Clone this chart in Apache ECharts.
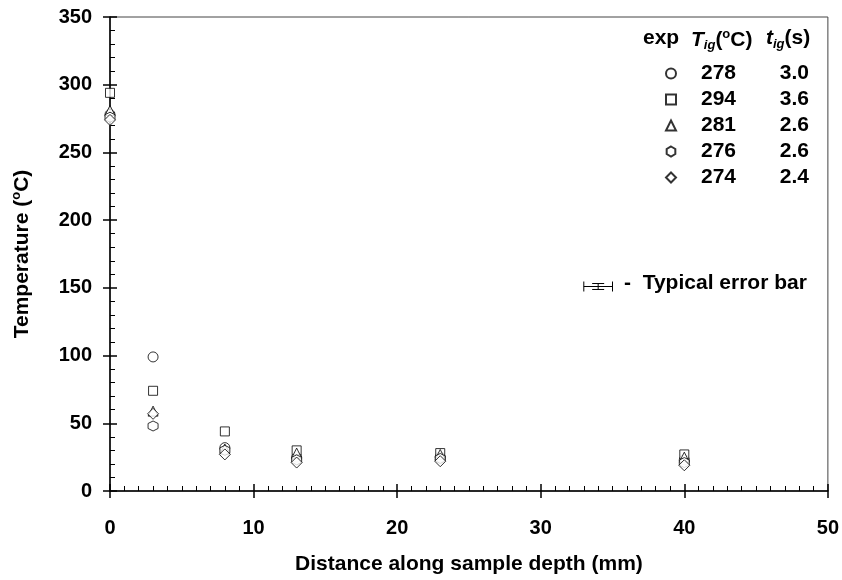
<!DOCTYPE html>
<html>
<head>
<meta charset="utf-8">
<script src="https://cdn.jsdelivr.net/npm/echarts@6/dist/echarts.min.js"></script>
<style>
  html, body { margin: 0; padding: 0; background: #fff; }
  #chart { width: 842px; height: 580px; }
</style>
</head>
<body>
<div id="chart"></div>
<script>
// distance along sample depth (mm)
var depth = [0, 3, 8, 13, 23, 40];
// temperature (oC) per experiment
var exp1 = [278, 99, 32, 25, 25, 23];
var exp2 = [294, 74, 44, 30, 28, 27];
var exp3 = [281, 59, 31, 28, 27, 25];
var exp4 = [276, 48, 30, 23, 24, 21];
var exp5 = [274, 57, 27, 21, 22, 19];
var expTig = [278, 294, 281, 276, 274];
var expTime = ['3.0', '3.6', '2.6', '2.6', '2.4'];
var expNames = ['exp1', 'exp2', 'exp3', 'exp4', 'exp5'];
// typical error bar: [x, y, +-x, +-y]
var typicalError = [[34, 151, 1, 2.2]];

var font = 'Liberation Sans, Arial, sans-serif';
var hexagon = 'path://M0,-1L0.866,-0.5L0.866,0.5L0,1L-0.866,0.5L-0.866,-0.5Z';
var symbols = ['circle', 'rect', 'triangle', hexagon, 'diamond'];
var sizes = [10, 9, 10, 10, 11];
var values = [exp1, exp2, exp3, exp4, exp5];

function pairs(arr) {
  return arr.map(function (v, i) { return [depth[i], v]; });
}

var series = values.map(function (arr, i) {
  return {
    name: expNames[i],
    type: 'scatter',
    data: pairs(arr),
    symbol: symbols[i],
    symbolSize: sizes[i],
    itemStyle: { color: '#fff', borderColor: '#000', borderWidth: 1 },
    z: 3
  };
});

series.push({
  type: 'custom',
  data: typicalError,
  renderItem: function (params, api) {
    var x = api.value(0), y = api.value(1), dx = api.value(2), dy = api.value(3);
    var l = api.coord([x - dx, y]);
    var r = api.coord([x + dx, y]);
    var t = api.coord([x, y + dy]);
    var b = api.coord([x, y - dy]);
    var st = { stroke: '#000', lineWidth: 1 };
    return {
      type: 'group',
      children: [
        { type: 'line', shape: { x1: l[0], y1: l[1], x2: r[0], y2: r[1] }, style: st },
        { type: 'line', shape: { x1: l[0], y1: l[1] - 5, x2: l[0], y2: l[1] + 5 }, style: st },
        { type: 'line', shape: { x1: r[0], y1: r[1] - 5, x2: r[0], y2: r[1] + 5 }, style: st },
        { type: 'line', shape: { x1: t[0], y1: t[1], x2: b[0], y2: b[1] }, style: st },
        { type: 'line', shape: { x1: t[0] - 6, y1: t[1], x2: t[0] + 6, y2: t[1] }, style: st },
        { type: 'line', shape: { x1: b[0] - 6, y1: b[1], x2: b[0] + 6, y2: b[1] }, style: st }
      ]
    };
  },
  z: 3
});

var chart = echarts.init(document.getElementById('chart'));
var labelStyle = { color: '#000', fontFamily: font, fontWeight: 'bold', fontSize: 20 };
var titleStyle = { color: '#000', fontFamily: font, fontWeight: 'bold', fontSize: 21 };
var headRich = {
  b: { fontFamily: font, fontWeight: 'bold', fontSize: 21, color: '#000', lineHeight: 24, verticalAlign: 'middle' },
  i: { fontFamily: font, fontWeight: 'bold', fontStyle: 'italic', fontSize: 21, color: '#000', lineHeight: 24, verticalAlign: 'middle' },
  sub: { fontFamily: font, fontWeight: 'bold', fontStyle: 'italic', fontSize: 13, color: '#000', lineHeight: 13, verticalAlign: 'bottom' },
  sup: { fontFamily: font, fontWeight: 'bold', fontSize: 13, color: '#000', lineHeight: 12, verticalAlign: 'top' }
};

chart.setOption({
  animation: false,
  backgroundColor: '#fff',
  grid: {
    left: 110, right: 14, top: 17, bottom: 87,
    show: true, borderColor: '#444', borderWidth: 1
  },
  legend: {
    data: expNames,
    orient: 'vertical',
    left: 665,
    top: 63,
    padding: 0,
    itemWidth: 10,
    itemHeight: 10,
    itemGap: 5,
    selectedMode: false,
    formatter: function (name) {
      var i = expNames.indexOf(name);
      return '{n|' + expTig[i] + '}{t|' + expTime[i] + '}';
    },
    textStyle: {
      rich: {
        n: { width: 55, align: 'right', fontFamily: font, fontWeight: 'bold', fontSize: 21, color: '#000', lineHeight: 20 },
        t: { width: 73, align: 'right', fontFamily: font, fontWeight: 'bold', fontSize: 21, color: '#000', lineHeight: 20 }
      }
    }
  },
  xAxis: [{
    type: 'value', min: 0, max: 50, interval: 10,
    name: 'Distance along sample depth (mm)',
    nameLocation: 'middle', nameGap: 63,
    nameTextStyle: titleStyle,
    axisLine: { lineStyle: { color: '#000', width: 1.5 } },
    axisTick: { inside: false, length: 7, lineStyle: { color: '#000', width: 1.5 } },
    axisLabel: Object.assign({ margin: 27 }, labelStyle),
    splitLine: { show: false }
  }, {
    type: 'value', min: 0, max: 50, interval: 10, position: 'bottom',
    axisLine: { show: false },
    axisTick: { inside: true, length: 7, lineStyle: { color: '#000', width: 1.5 } },
    minorTick: { show: true, splitNumber: 10, length: 5, lineStyle: { color: '#000', width: 1 } },
    axisLabel: { show: false },
    splitLine: { show: false }
  }],
  yAxis: [{
    type: 'value', min: 0, max: 350, interval: 50,
    name: 'Temperature ({sup|o}C)',
    nameLocation: 'middle', nameGap: 76,
    nameTextStyle: Object.assign({
      lineHeight: 24,
      rich: {
        sup: { fontFamily: font, fontWeight: 'bold', fontSize: 13, color: '#000', lineHeight: 12, verticalAlign: 'top' }
      }
    }, titleStyle),
    axisLine: { lineStyle: { color: '#000', width: 1.5 } },
    axisTick: { inside: false, length: 7, lineStyle: { color: '#000', width: 1.5 } },
    axisLabel: Object.assign({ margin: 18 }, labelStyle),
    splitLine: { show: false }
  }, {
    type: 'value', min: 0, max: 350, interval: 50, position: 'left',
    axisLine: { show: false },
    axisTick: { inside: true, length: 7, lineStyle: { color: '#000', width: 1.5 } },
    minorTick: { show: true, splitNumber: 5, length: 5, lineStyle: { color: '#000', width: 1 } },
    axisLabel: { show: false },
    splitLine: { show: false }
  }],
  graphic: [
    { type: 'text', left: 643, top: 28, style: { text: '{b|exp}', rich: headRich } },
    { type: 'text', left: 691, top: 28, style: { text: '{i|T}{sub|ig}{b|(}{sup|o}{b|C)}', rich: headRich } },
    { type: 'text', left: 766, top: 28, style: { text: '{i|t}{sub|ig}{b|(s)}', rich: headRich } },
    { type: 'text', left: 624, top: 273, style: { text: '-  Typical error bar', fill: '#000', fontFamily: font, fontWeight: 'bold', fontSize: 21 } }
  ],
  series: series
});
</script>
</body>
</html>
